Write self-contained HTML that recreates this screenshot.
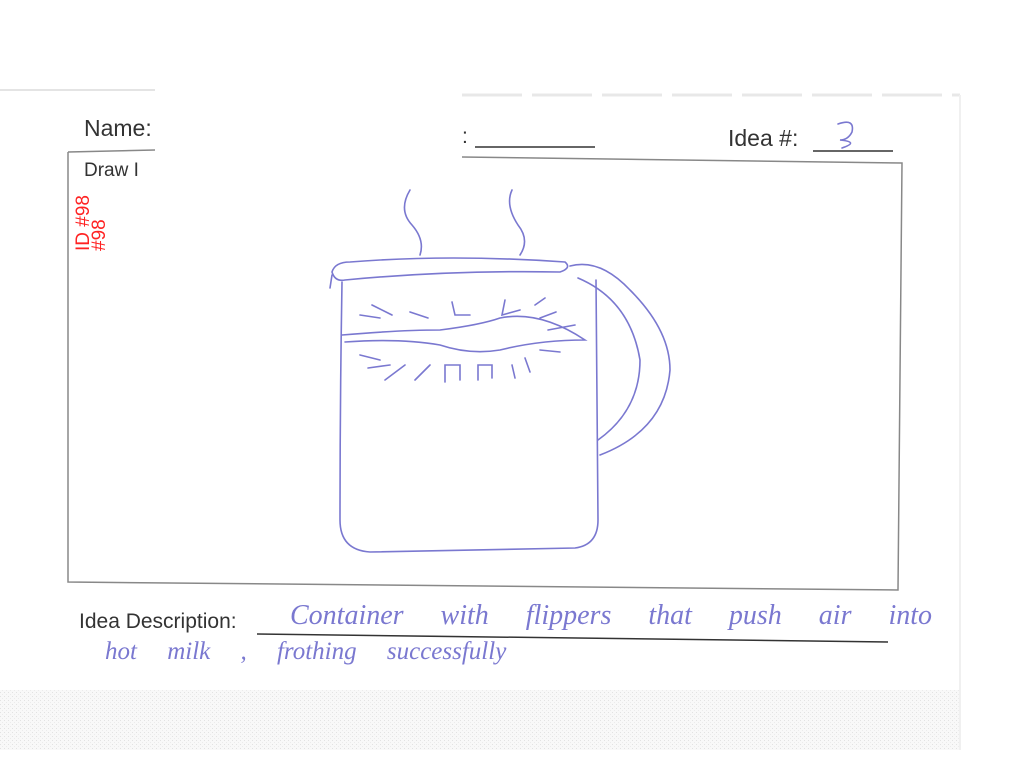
<!DOCTYPE html>
<html><head><meta charset="utf-8"><style>
html,body{margin:0;padding:0;background:#fff;}
body{width:1020px;height:764px;position:relative;overflow:hidden;font-family:"Liberation Sans",sans-serif;}
.t{position:absolute;color:#333;font-size:21px;}
.h{position:absolute;color:#7a78d0;font-family:"Liberation Serif",serif;font-style:italic;}
</style></head><body>
<svg width="1020" height="764" style="position:absolute;left:0;top:0">
 <defs><pattern id="n" width="4" height="4" patternUnits="userSpaceOnUse"><rect width="4" height="4" fill="#f8f8f8"/><rect width="1" height="1" fill="#e2e2e2"/><rect x="2" y="2" width="1" height="1" fill="#ebebeb"/></pattern></defs>
 <line x1="0" y1="90" x2="155" y2="90" stroke="#e4e4e4" stroke-width="2"/>
 <line x1="462" y1="95" x2="960" y2="95" stroke="#e8e8e8" stroke-width="3" stroke-dasharray="60 10"/>
 <rect x="0" y="690" width="960" height="60" fill="url(#n)"/>
 <line x1="960" y1="95" x2="960" y2="750" stroke="#f0f0f0" stroke-width="2"/>
 <path d="M68 152 L155 150 M462 157 L902 163 L898 590 L68 582 L68 152" fill="none" stroke="#888" stroke-width="1.5"/>
 <line x1="475" y1="147" x2="595" y2="147" stroke="#333" stroke-width="1.5"/>
 <line x1="813" y1="151" x2="893" y2="151" stroke="#333" stroke-width="1.5"/>
 <line x1="257" y1="634" x2="888" y2="642" stroke="#333" stroke-width="1.5"/>
 <g fill="none" stroke="#7a78d0" stroke-width="1.6" stroke-linecap="round">
  <path d="M838 124 Q855 118 852 132 Q848 140 840 140 Q860 142 842 148"/>
  <path d="M410 190 Q398 210 412 225 Q425 240 420 255"/>
  <path d="M512 190 Q505 205 518 225 Q530 240 520 255"/>
  <path d="M332 272 Q335 262 350 262 Q450 254 565 262 Q572 268 560 272 Q450 270 345 280 Q335 282 332 272"/>
  <path d="M332 275 L330 288"/>
  <path d="M342 282 Q340 400 340 520 Q340 550 370 552 L575 548 Q598 545 598 520 L596 280"/>
  <path d="M570 266 Q600 258 630 290 Q670 330 670 370 Q665 430 600 455"/>
  <path d="M578 278 Q630 300 640 360 Q640 410 598 440"/>
  <path d="M342 335 Q400 330 440 330 Q480 325 500 318 Q540 310 585 340 Q540 340 500 350 Q470 355 440 345 Q400 338 345 342"/>
  <path d="M360 315 L380 318 M372 305 L392 315 M410 312 L428 318 M452 302 L455 315 L470 315 M505 300 L502 315 L520 310 M535 305 L545 298 M540 318 L556 312 M548 330 L575 325"/>
  <path d="M360 355 L380 360 M368 368 L390 365 M385 380 L405 365 M415 380 L430 365 M445 382 L445 365 L460 365 L460 380 M478 380 L478 365 L492 365 L492 378 M512 365 L515 378 M525 358 L530 372 M540 350 L560 352"/>
 </g>
</svg>
<div class="t" style="left:84px;top:115px;font-size:23px">Name:</div>
<div class="t" style="left:84px;top:160px;font-size:19px">Draw I</div>
<div class="t" style="left:462px;top:125px">:</div>
<div class="t" style="left:728px;top:125px;font-size:23px">Idea #:</div>
<div class="t" style="left:79px;top:610px">Idea Description:</div>
<div style="position:absolute;left:62px;top:205px;transform:rotate(-90deg);color:#f22;font-size:19px;line-height:16px;width:60px">ID #98<br>#98</div>
<div class="h" style="left:290px;top:600px;font-size:28px;word-spacing:30px">Container with flippers that push air into</div>
<div class="h" style="left:105px;top:638px;font-size:25px;word-spacing:24px">hot milk , frothing successfully</div>
</body></html>
